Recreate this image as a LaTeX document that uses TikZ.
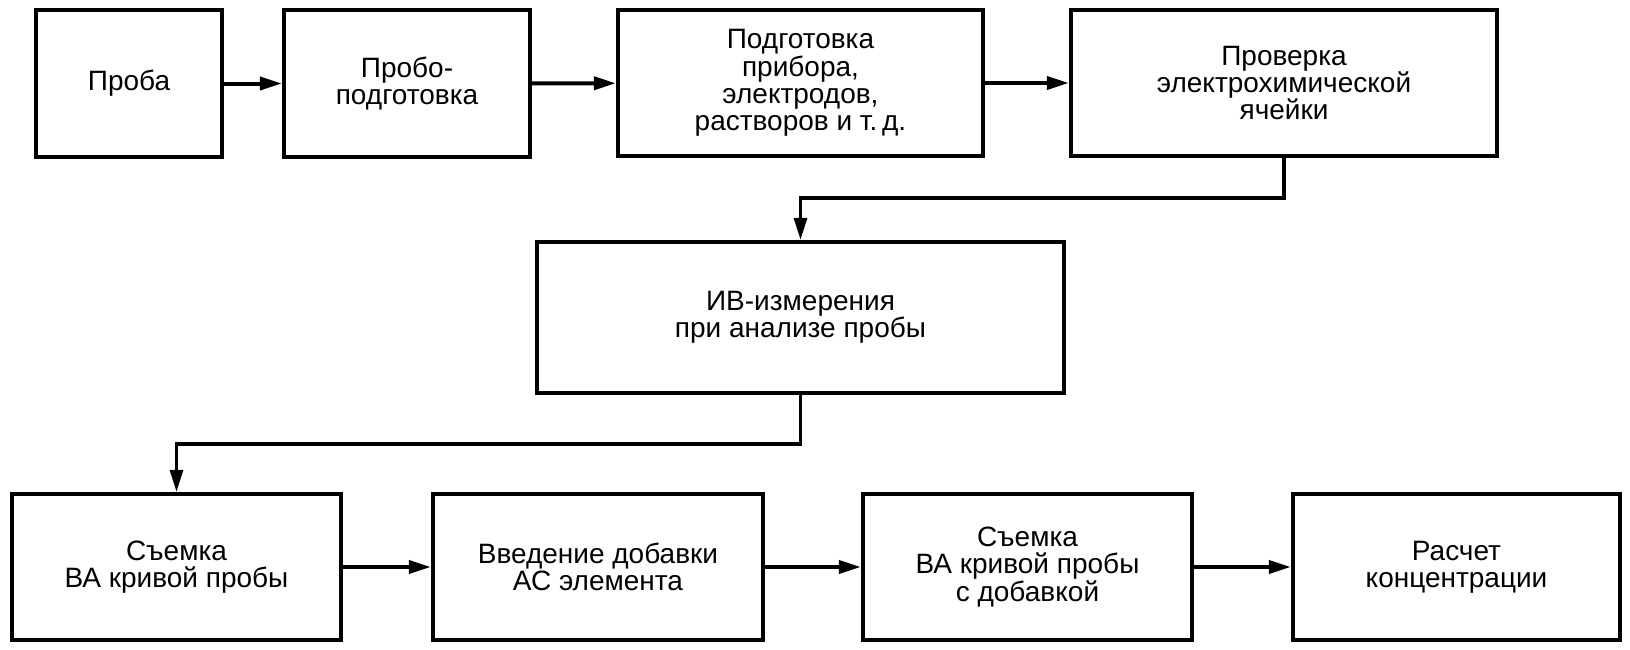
\documentclass[tikz,border=0pt]{standalone}
\usepackage{fontspec}
\setmainfont{Liberation Sans}
\usetikzlibrary{arrows.meta}
\tikzset{
  box/.style={draw=black, line width=2.2pt, rectangle, inner sep=0pt, align=center,
    font=\fontsize{14pt}{13.7pt}\selectfont},
  flow/.style={line width=2pt, -{Triangle[length=11pt,width=6.5pt]}},
  conn/.style={line width=1.6pt, -{Triangle[length=11pt,width=6.5pt]}},
}
\begin{document}
\begin{tikzpicture}[x=0.5pt,y=-0.5pt]
\useasboundingbox (0,0) rectangle (1630,649);
\node[box, minimum width=93pt, minimum height=73.5pt] (b1) at (129,83.5) {Проба};
\node[box, minimum width=123pt, minimum height=73.5pt] (b2) at (407,83.5) {Пробо-\\подготовка};
\node[box, minimum width=182.5pt, minimum height=73pt] (b3) at (800.5,83) {Подготовка\\прибора,\\электродов,\\растворов и т.\,д.};
\node[box, minimum width=213pt, minimum height=73pt] (b4) at (1284,83) {Проверка\\электрохимической\\ячейки};
\node[box, minimum width=263.5pt, minimum height=75.5pt] (m) at (800.5,317.5) {ИВ-измерения\\при анализе пробы};
\node[box, minimum width=164.5pt, minimum height=73pt] (c1) at (176.5,567) {Съемка\\ВА кривой пробы};
\node[box, minimum width=165pt, minimum height=73pt] (c2) at (598,567) {Введение добавки\\АС элемента};
\node[box, minimum width=164.5pt, minimum height=73pt] (c3) at (1027.5,567) {Съемка\\ВА кривой пробы\\с добавкой};
\node[box, minimum width=163.5pt, minimum height=73pt] (c4) at (1456.5,567) {Расчет\\концентрации};
\coordinate (k1) at (0,198);
\coordinate (k2) at (0,444);
\draw[flow] (b1) -- (b2);
\draw[flow] (b2) -- (b3);
\draw[flow] (b3) -- (b4);
\draw[conn] (b4.south) -- (b4.south |- k1) -| (m.north);
\draw[conn] (m.south) -- (m.south |- k2) -| (c1.north);
\draw[flow] (c1) -- (c2);
\draw[flow] (c2) -- (c3);
\draw[flow] (c3) -- (c4);
\end{tikzpicture}
\end{document}
